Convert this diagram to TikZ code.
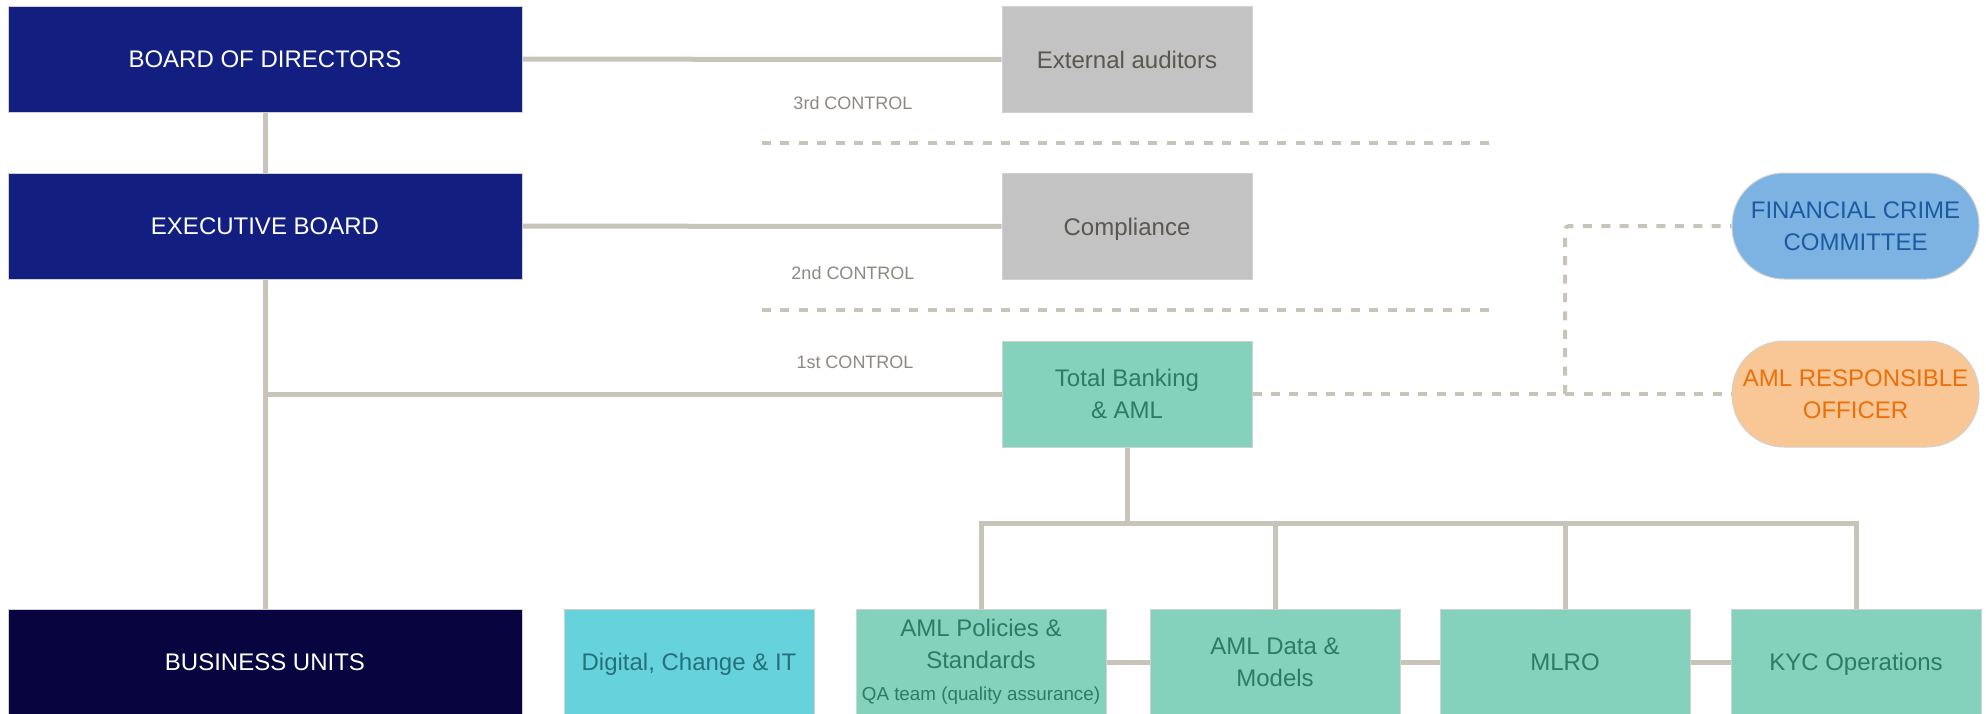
\documentclass[tikz,border=0pt]{standalone}
\usepackage{fontspec}
\setmainfont{Liberation Sans}

\definecolor{boardblue}{RGB}{18,31,128}
\definecolor{unitnavy}{RGB}{7,4,63}
\definecolor{boxgrey}{RGB}{195,195,195}
\definecolor{greytext}{RGB}{90,86,80}
\definecolor{linegrey}{RGB}{200,196,186}
\definecolor{ctrltext}{RGB}{140,136,130}
\definecolor{amlgreen}{RGB}{132,209,188}
\definecolor{amltext}{RGB}{46,122,100}
\definecolor{itcyan}{RGB}{102,211,220}
\definecolor{ittext}{RGB}{37,112,122}
\definecolor{crimeblue}{RGB}{124,179,227}
\definecolor{crimetext}{RGB}{30,90,160}
\definecolor{officerorange}{RGB}{248,199,149}
\definecolor{officertext}{RGB}{235,112,10}

\tikzset{
  box/.style={draw=black!18, line width=0.5pt, minimum width=125pt, minimum height=53pt,
    inner sep=2pt, align=center, font=\fontsize{12}{16}\selectfont},
  oneline/.style={text depth=0pt},
  boardbox/.style={box, fill=boardblue, text=white, minimum width=257pt},
  unitbox/.style={boardbox, fill=unitnavy},
  greybox/.style={box, fill=boxgrey, text=greytext},
  amlbox/.style={box, fill=amlgreen, text=amltext},
  itbox/.style={box, fill=itcyan, text=ittext},
  pill/.style={box, rounded corners=26pt, minimum width=123.5pt},
  ctrl/.style={font=\fontsize{9}{11}\selectfont, text=ctrltext},
  link/.style={draw=linegrey, line width=2.5pt},
  dashlink/.style={draw=linegrey, line width=2pt, dash pattern=on 4.5pt off 4.7pt},
}

\begin{document}
\begin{tikzpicture}[x=0.5pt, y=-0.5pt]
  \useasboundingbox (0,0) rectangle (1986,713);

  % left column
  \node[boardbox] (board) at (265,59) {BOARD OF DIRECTORS};
  \node[boardbox] (exec) at (265,226) {EXECUTIVE BOARD};
  \node[unitbox] (units) at (265,662) {BUSINESS UNITS};

  % control lines
  \node[greybox] (audit) at (1127,59.5) {External auditors};
  \node[greybox, oneline] (compl) at (1127,226.5) {Compliance};
  \node[amlbox] (total) at (1127,394) {Total Banking\\ \& AML};
  \node[ctrl] (third) at (853,103) {3rd CONTROL};
  \node[ctrl] (second) at (853,273) {2nd CONTROL};
  \node[ctrl] (first) at (855,362) {1st CONTROL};
  \draw[dashlink] (762,143) -- (1492,143);
  \draw[dashlink] (762,310) -- (1492,310);

  % committees
  \node[pill, fill=crimeblue, text=crimetext] (crime) at (1855.5,226) {FINANCIAL CRIME\\ COMMITTEE};
  \node[pill, fill=officerorange, text=officertext] (officer) at (1855.5,394) {AML RESPONSIBLE\\ OFFICER};

  % bottom row
  \node[itbox, oneline] (digital) at (689,662) {Digital, Change \& IT};
  \node[amlbox] (policies) at (981,662) {{\fontsize{12}{15}\selectfont AML Policies \&}\\
    {\fontsize{12}{15}\selectfont Standards}\\ {\fontsize{9.4}{12}\selectfont QA team (quality assurance)}};
  \node[amlbox] (data) at (1275,662) {AML Data \&\\ Models};
  \node[amlbox] (mlro) at (1565,662) {MLRO};
  \node[amlbox, oneline] (kyc) at (1856,662) {KYC Operations};

  \coordinate (spine) at (265,394);
  \coordinate (bus) at (1127,524);
  \coordinate (fork) at (1565,394);

  \draw[link] (board) -- (exec);
  \draw[link] (exec) -- (units);
  \draw[link] (board) -- (audit);
  \draw[link] (exec) -- (compl);
  \draw[link] (spine) -- (total);
  \draw[link] (total) -- (bus);
  \draw[link] (policies.north) -- ++(0,-85) -| (kyc.north);
  \draw[link] (data.north) -- (data.north |- bus);
  \draw[link] (mlro.north) -- (mlro.north |- bus);
  \draw[link] (policies) -- (data);
  \draw[link] (data) -- (mlro);
  \draw[link] (mlro) -- (kyc);
  \draw[dashlink] (total) -- (officer);
  \draw[dashlink, rounded corners=2pt] (fork) |- (crime);
\end{tikzpicture}
\end{document}
